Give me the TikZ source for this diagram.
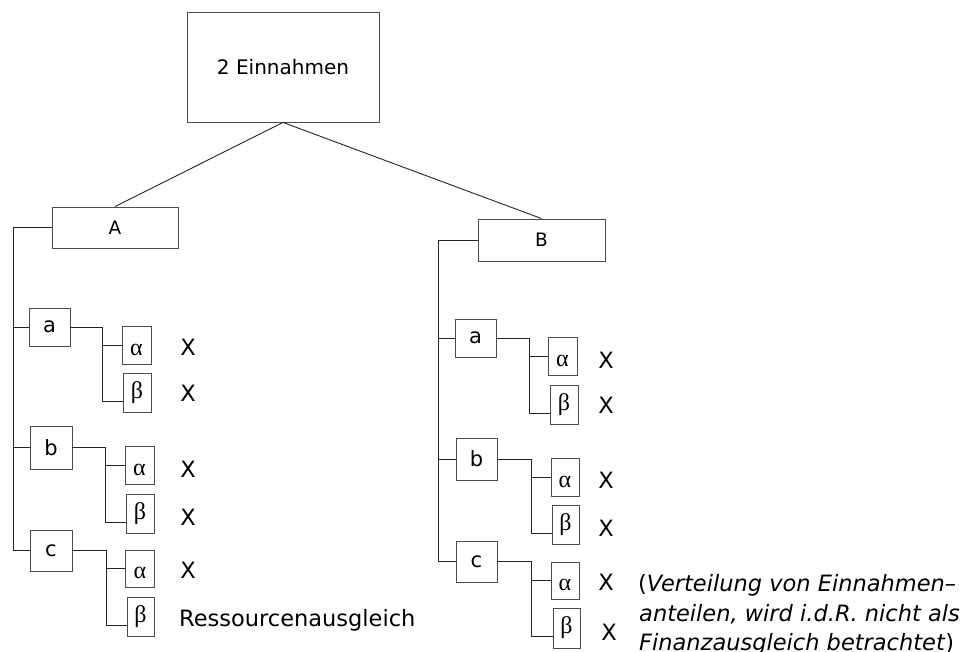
\documentclass[tikz,border=0pt]{standalone}
\usepackage{fontspec}
\setmainfont{DejaVu Sans}
\newfontfamily\greekfont{Liberation Serif}
\usetikzlibrary{calc}

\begin{document}
\begin{tikzpicture}[x=1pt,y=-1pt,
  line/.style={draw=black!85, line width=0.9pt},
  box/.style={draw=black!70, line width=0.9pt, inner sep=0pt, font=\fontsize{21}{24}\selectfont},
  head/.style={box, minimum width=126pt, minimum height=41pt, font=\fontsize{18.5}{22}\selectfont},
  sub/.style={box, minimum width=41pt, minimum height=40pt},
  leaf/.style={box, minimum width=29pt, minimum height=38pt, font=\greekfont\fontsize{24}{26}\selectfont},
  alpha/.style={leaf, text height=20pt, text depth=0pt},
  xlab/.style={inner sep=0pt, font=\fontsize{22.5}{26}\selectfont},
  note/.style={inner sep=0pt, anchor=base west, font=\fontsize{22.5}{26}\selectfont}
]
\useasboundingbox (0,0) rectangle (977,652);

% root and the two main branches
\node[box, minimum width=192pt, minimum height=110pt, font=\fontsize{20}{24}\selectfont] (top) at (283,67) {2 Einnahmen};
\node[head] (A) at (115,227.5) {A};
\node[head, minimum width=127pt, minimum height=42pt] (B) at (541.5,240) {B};
\draw[line] (top.south) -- (A.north);
\draw[line] (top.south) -- (B.north);

% ---- branch A ----
\node[sub, minimum height=38pt] (aL) at (49.5,327) {a};
\node[sub, minimum width=42pt, minimum height=43pt] (bL) at (51,447.5) {b};
\node[sub, minimum width=42pt, minimum height=41pt] (cL) at (51,550.5) {c};
\coordinate (spL) at (13,227.5);
\draw[line] (A.west) -- (spL) |- (cL.west);
\draw[line] (spL |- aL.west) -- (aL.west);
\draw[line] (spL |- bL.west) -- (bL.west);

\node[alpha] (aL1) at (136.5,345) {α};
\node[leaf, minimum width=28pt, minimum height=39pt] (aL2) at (137,392.5) {β};
\node[alpha] (bL1) at (139.5,465.5) {α};
\node[leaf, minimum width=28pt, minimum height=39pt] (bL2) at (140,513.5) {β};
\node[alpha, minimum height=37pt] (cL1) at (140,568.5) {α};
\node[leaf, minimum width=27pt, minimum height=39pt] (cL2) at (140.5,616.5) {β};

\draw[line] (aL.east) -- ++(32,0) coordinate (jaL) |- ($(aL2.west)+(0,8.5)$);
\draw[line] (jaL |- aL1.west) -- (aL1.west);
\draw[line] (bL.east) -- ++(33,0) coordinate (jbL) |- ($(bL2.west)+(0,8.5)$);
\draw[line] (jbL |- bL1.west) -- (bL1.west);
\draw[line] (cL.east) -- ++(34,0) coordinate (jcL) |- ($(cL2.west)+(0,8.5)$);
\draw[line] (jcL |- cL1.west) -- (cL1.west);

\node[xlab] (xaL1) at (188,347) {X};
\node[xlab] (xaL2) at (188,393) {X};
\node[xlab] (xbL1) at (188,469) {X};
\node[xlab] (xbL2) at (188,517) {X};
\node[xlab] (xcL1) at (188,570) {X};
\node[note] (res) at (179,626.5) {Ressourcenausgleich};

% ---- branch B ----
\node[sub, minimum height=38pt] (aR) at (475.5,338) {a};
\node[sub, minimum height=42pt] (bR) at (476.5,459) {b};
\node[sub, minimum height=41pt] (cR) at (476.5,561.5) {c};
\coordinate (spR) at (438.5,240);
\draw[line] (B.west) -- (spR) |- (cR.west);
\draw[line] (spR |- aR.west) -- (aR.west);
\draw[line] (spR |- bR.west) -- (bR.west);

\node[alpha] (aR1) at (562.5,356) {α};
\node[leaf, minimum width=28pt, minimum height=39pt] (aR2) at (564,404.5) {β};
\node[alpha, minimum width=28pt] (bR1) at (565,477) {α};
\node[leaf, minimum width=27pt, minimum height=39pt] (bR2) at (565.5,524.5) {β};
\node[alpha, minimum width=28pt, minimum height=37pt] (cR1) at (565,580.5) {α};
\node[leaf, minimum width=27pt, minimum height=40pt] (cR2) at (566.5,628) {β};

\draw[line] (aR.east) -- ++(32.5,0) coordinate (jaR) |- ($(aR2.west)+(0,8.5)$);
\draw[line] (jaR |- aR1.west) -- (aR1.west);
\draw[line] (bR.east) -- ++(34,0) coordinate (jbR) |- ($(bR2.west)+(0,8.5)$);
\draw[line] (jbR |- bR1.west) -- (bR1.west);
\draw[line] (cR.east) -- ++(34,0) coordinate (jcR) |- ($(cR2.west)+(0,8.5)$);
\draw[line] (jcR |- cR1.west) -- (cR1.west);

\node[xlab] (xaR1) at (606,360) {X};
\node[xlab] (xaR2) at (606,405) {X};
\node[xlab] (xbR1) at (606,480) {X};
\node[xlab] (xbR2) at (606,528) {X};
\node[xlab] (xcR1) at (606,582) {X};
\node[xlab] (xcR2) at (609,632) {X};

% remark beside the last pair of branch B
\node[note] (n1) at (638,591) {(\textit{Verteilung von Einnahmen–}};
\node[note] (n2) at (639,621) {\textit{anteilen, wird i.d.R. nicht als}};
\node[note] (n3) at (639,650) {\textit{Finanzausgleich betrachtet})};
\end{tikzpicture}
\end{document}
